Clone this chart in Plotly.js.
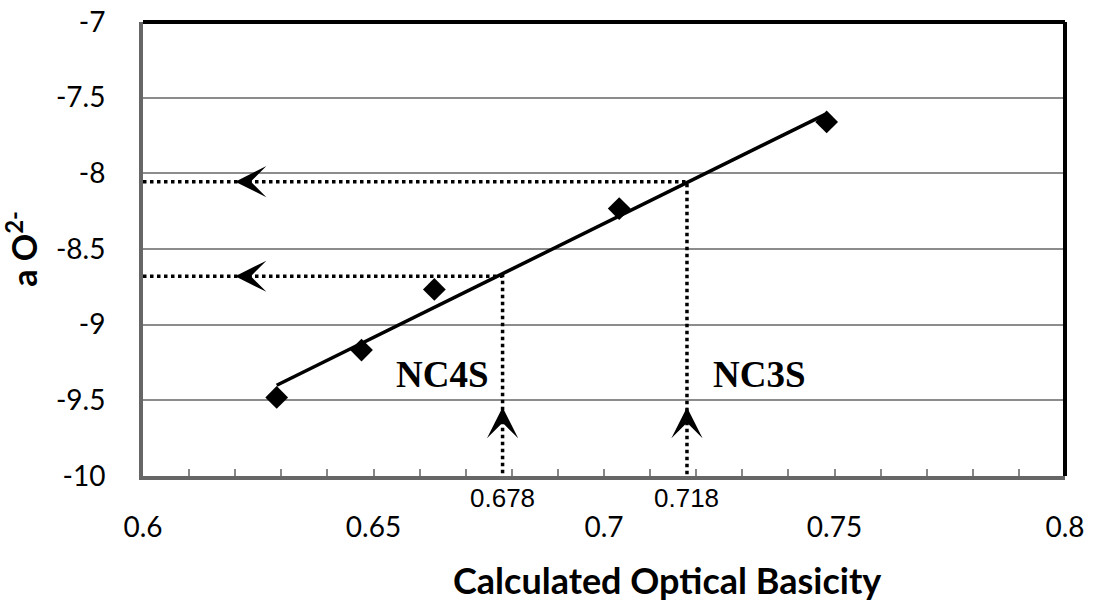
<!DOCTYPE html>
<html>
<head>
<meta charset="utf-8">
<script src="https://cdn.plot.ly/plotly-3.0.1.min.js"></script>
<style>html,body{margin:0;padding:0;background:#fff;}#chart{width:1094px;height:606px;}</style>
</head>
<body>
<div id="chart"></div>
<script>
// measured points
var basicity = [0.629, 0.6474, 0.6632, 0.7033, 0.7483];
var aO2 = [-9.481, -9.168, -8.767, -8.233, -7.66];
// linear fit line (end points)
var fitX = [0.629, 0.748];
var fitY = [-9.40, -7.61];
// read-off values for the two glasses
var glassNames = ["NC4S", "NC3S"];
var glassBasicity = [0.678, 0.718];
var glassAO2 = [-8.68, -8.055];
// axis ticks
var xTickVals = [0.6, 0.65, 0.7, 0.75, 0.8];
var xTickText = ["0.6", "0.65", "0.7", "0.75", "0.8"];
var yTickVals = [-10, -9.5, -9, -8.5, -8, -7.5, -7];
var yTickText = ["-10", "-9.5", "-9", "-8.5", "-8", "-7.5", "-7"];

var xMin = 0.6, yMin = -10;

var traces = [];
// dotted guide lines
for (var i = 0; i < glassBasicity.length; i++) {
  traces.push({
    x: [xMin, glassBasicity[i], glassBasicity[i]],
    y: [glassAO2[i], glassAO2[i], yMin],
    mode: 'lines', type: 'scatter', hoverinfo: 'skip',
    line: {color: '#000', width: 3.5, dash: 'dot'}, showlegend: false
  });
}
traces.push({
  x: fitX, y: fitY, mode: 'lines', type: 'scatter',
  line: {color: '#000', width: 3.5}, showlegend: false
});
traces.push({
  x: basicity, y: aO2, mode: 'markers', type: 'scatter',
  marker: {symbol: 'diamond', size: 17.5, color: '#000'}, showlegend: false
});

var annotations = [];
var arrowStyle = {showarrow: true, arrowhead: 3, arrowsize: 2.6, arrowwidth: 2, arrowcolor: '#000', text: '', xref: 'x', yref: 'y', standoff: 0};
for (var j = 0; j < glassBasicity.length; j++) {
  annotations.push(Object.assign({}, arrowStyle, {x: 0.62, y: glassAO2[j], ax: 11, ay: 0}));
  annotations.push(Object.assign({}, arrowStyle, {x: glassBasicity[j], y: -9.545, ax: 0, ay: 11}));
  annotations.push({
    x: glassBasicity[j], y: 0, xref: 'x', yref: 'paper', yshift: -22, yanchor: 'middle',
    text: String(glassBasicity[j]), showarrow: false,
    font: {family: 'Liberation Sans, Arial, sans-serif', size: 26, color: '#000'}
  });
}
var labelX = [0.6649, 0.7338];
for (var k = 0; k < glassNames.length; k++) {
  annotations.push({
    x: labelX[k], y: -9.327, xref: 'x', yref: 'y', text: '<b>' + glassNames[k] + '</b>', showarrow: false,
    font: {family: 'Liberation Serif, Times New Roman, serif', size: 37, color: '#000'}
  });
}
annotations.push({
  x: 0.568, y: 0, xref: 'paper', yref: 'paper', yshift: -104, yanchor: 'middle',
  text: '<b>Calculated Optical Basicity</b>', showarrow: false,
  font: {family: 'Lato, sans-serif', size: 36, color: '#000'}
});

var layout = {
  width: 1094, height: 606,
  margin: {l: 143, r: 29, t: 22, b: 130},
  paper_bgcolor: '#fff', plot_bgcolor: '#fff',
  font: {family: 'Lato, sans-serif', color: '#000'},
  showlegend: false,
  xaxis: {
    range: [0.6, 0.8], tickvals: xTickVals, ticktext: xTickText,
    ticks: 'inside', ticklen: 7, tickwidth: 2, tickcolor: '#888',
    minor: {dtick: 0.01, tick0: 0.6, ticks: 'inside', ticklen: 7, tickwidth: 2, tickcolor: '#888', showgrid: false},
    showgrid: false, zeroline: false,
    showline: true, linecolor: '#666', linewidth: 4,
    tickfont: {family: 'Lato, sans-serif', size: 28, color: '#000'},
    ticklabelstandoff: 23
  },
  yaxis: {
    range: [-10, -7], tickvals: yTickVals, ticktext: yTickText,
    ticks: '', showgrid: true, gridcolor: '#8c8c8c', gridwidth: 2, zeroline: false,
    showline: true, linecolor: '#666', linewidth: 4,
    tickfont: {family: 'Lato, sans-serif', size: 28, color: '#000'},
    ticklabelstandoff: 28,
    title: {text: '<b>a O<sup>2-</sup></b>', font: {family: 'Lato, sans-serif', size: 34, color: '#000'}, standoff: 12}
  },
  shapes: [
    {type: 'line', xref: 'paper', yref: 'paper', x0: 0, x1: 1, y0: 1, y1: 1, line: {color: '#000', width: 4}},
    {type: 'line', xref: 'paper', yref: 'paper', x0: 1, x1: 1, y0: 0, y1: 1, line: {color: '#000', width: 4}}
  ],
  annotations: annotations
};

Plotly.newPlot('chart', traces, layout, {displayModeBar: false, staticPlot: true});
</script>
</body>
</html>
